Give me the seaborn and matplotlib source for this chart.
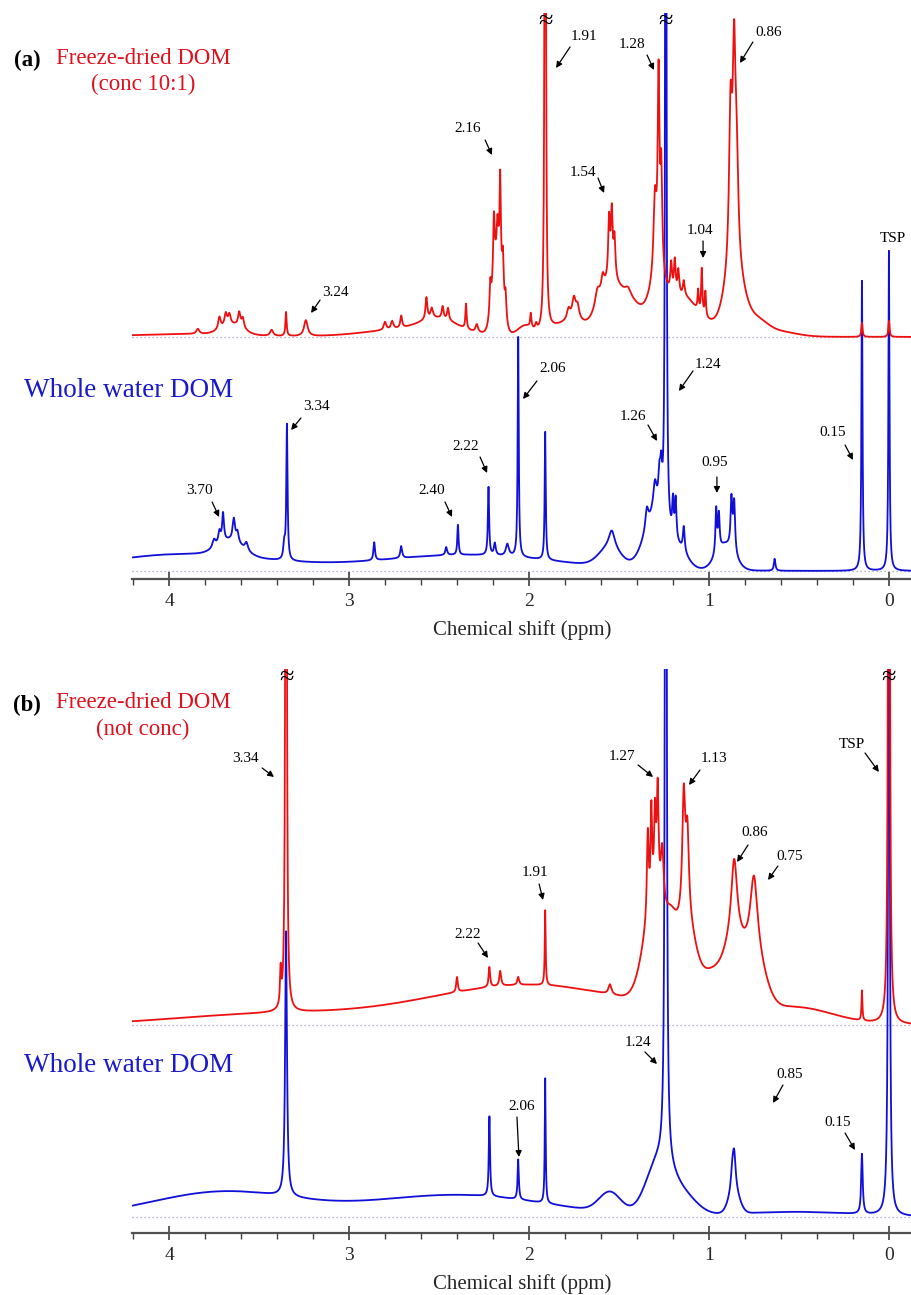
import numpy as np
import matplotlib
matplotlib.use("Agg")
import matplotlib.pyplot as plt
from matplotlib.ticker import MultipleLocator, FixedLocator
import seaborn as sns
import pandas as pd

sns.set_theme(style="white")
plt.rcParams["font.family"] = ["Liberation Serif", "DejaVu Serif"]

# ---------------- data (peak tables) ----------------
# sharp peaks: (ppm, height, half-width) ; broad humps: (ppm, height, sigma)
a_red_peaks = [
    (3.84, 5, 0.01), (3.72, 12, 0.008), (3.685, 12, 0.008), (3.665, 10, 0.008),
    (3.61, 14, 0.008), (3.59, 10, 0.008), (3.43, 6, 0.01), (3.35, 24, 0.004),
    (3.24, 16, 0.012), (2.80, 8, 0.008), (2.76, 8, 0.008), (2.71, 12, 0.006),
    (2.57, 22, 0.006), (2.54, 10, 0.008), (2.48, 12, 0.006), (2.45, 12, 0.006),
    (2.35, 25, 0.004), (2.29, 8, 0.008),
    (2.215, 30, 0.005), (2.195, 60, 0.005), (2.175, 30, 0.005), (2.16, 90, 0.004),
    (2.145, 40, 0.005), (2.13, 25, 0.005),
    (1.99, 14, 0.004), (1.96, 6, 0.006), (1.91, 1200, 0.003),
    (1.78, 10, 0.01), (1.75, 20, 0.012), (1.73, 12, 0.01),
    (1.62, 15, 0.015), (1.59, 15, 0.01), (1.555, 60, 0.006), (1.54, 65, 0.006),
    (1.525, 40, 0.006), (1.45, 8, 0.02),
    (1.30, 80, 0.01), (1.28, 192, 0.006), (1.265, 100, 0.006),
    (1.21, 30, 0.006), (1.19, 35, 0.006), (1.17, 25, 0.006), (1.14, 15, 0.006),
    (1.06, 20, 0.004), (1.04, 45, 0.004), (1.02, 25, 0.004),
    (0.88, 150, 0.01), (0.86, 200, 0.01), (0.845, 80, 0.01),
    (0.15, 14, 0.004), (0.0, 16, 0.004),
]
a_red_humps = [
    (3.9, 3, 0.3), (3.65, 10, 0.06), (2.65, 8, 0.25), (2.50, 12, 0.1),
    (2.175, 80, 0.025), (2.02, 10, 0.04), (1.85, 8, 0.05), (1.75, 15, 0.05),
    (1.55, 50, 0.07), (1.42, 25, 0.06), (1.28, 50, 0.05), (1.15, 30, 0.06),
    (1.05, 15, 0.08), (0.86, 60, 0.05), (0.74, 14, 0.06), (0.62, 5, 0.1),
]
a_blue_peaks = [
    (3.75, 8, 0.01), (3.72, 12, 0.008), (3.70, 28, 0.006), (3.64, 22, 0.008),
    (3.62, 10, 0.008), (3.57, 8, 0.01), (3.36, 15, 0.006), (3.345, 135, 0.004),
    (2.86, 18, 0.005), (2.71, 12, 0.006), (2.46, 8, 0.006), (2.395, 30, 0.004),
    (2.225, 68, 0.004), (2.19, 12, 0.006), (2.12, 12, 0.01), (2.06, 220, 0.0035),
    (1.91, 128, 0.0035), (1.54, 18, 0.02), (1.345, 20, 0.01), (1.30, 30, 0.012),
    (1.275, 35, 0.008), (1.265, 35, 0.006), (1.24, 1500, 0.003), (1.20, 35, 0.005),
    (1.185, 40, 0.005), (1.14, 25, 0.006), (0.96, 45, 0.005), (0.945, 35, 0.005),
    (0.875, 50, 0.006), (0.86, 50, 0.006), (0.635, 12, 0.005),
    (0.15, 290, 0.0035), (0.0, 320, 0.0035),
]
a_blue_humps = [
    (3.9, 17, 0.45), (3.66, 15, 0.07), (2.35, 16, 0.5), (1.55, 18, 0.06),
    (1.30, 50, 0.06), (1.17, 18, 0.05), (0.91, 25, 0.05),
]
b_red_peaks = [
    (3.38, 35, 0.004), (3.35, 1500, 0.003), (2.40, 15, 0.005), (2.22, 20, 0.005),
    (2.16, 15, 0.006), (2.06, 8, 0.006), (1.91, 75, 0.003), (1.55, 10, 0.01),
    (1.34, 85, 0.006), (1.32, 90, 0.005), (1.30, 80, 0.006), (1.285, 105, 0.006),
    (1.26, 60, 0.01), (1.14, 120, 0.01), (1.12, 80, 0.01),
    (0.86, 80, 0.02), (0.75, 80, 0.025), (0.15, 30, 0.003), (0.0, 2000, 0.003),
]
b_red_humps = [
    (3.5, 10, 0.5), (2.0, 40, 0.6), (1.30, 100, 0.06), (1.21, 40, 0.03),
    (1.13, 80, 0.05), (0.98, 40, 0.08), (0.86, 50, 0.05), (0.75, 50, 0.06),
    (0.5, 15, 0.2),
]
b_blue_peaks = [
    (3.35, 265, 0.006), (2.22, 80, 0.004), (2.06, 40, 0.004), (1.91, 125, 0.003),
    (1.24, 1500, 0.004), (0.87, 20, 0.01), (0.86, 35, 0.01), (0.15, 60, 0.005),
    (0.0, 1000, 0.004),
]
b_blue_humps = [
    (3.7, 25, 0.4), (2.4, 22, 0.5), (1.55, 20, 0.06), (1.28, 50, 0.07),
    (1.15, 20, 0.08), (0.86, 20, 0.03), (0.5, 5, 0.3),
]

# baseline offsets of the stacked traces
a_offsets = {"red": 242, "blue": 8}
b_offsets = {"red": 208, "blue": 16}

# peak labels: (text, text_pos, arrow_tail, arrow_head) in (ppm, intensity)
a_labels = [
    ("1.91", (1.694, 542), (1.772, 532), (1.850, 511)),
    ("1.28", (1.428, 534), (1.344, 524), (1.306, 509)),
    ("0.86", (0.667, 547), (0.756, 537), (0.828, 516)),
    ("2.16", (2.339, 450), (2.244, 439), (2.206, 424)),
    ("1.54", (1.700, 407), (1.617, 401), (1.583, 386)),
    ("1.04", (1.05, 348), (1.033, 338), (1.033, 321)),
    ("TSP", (-0.022, 341), None, None),
    ("3.24", (3.078, 286), (3.161, 279), (3.211, 266)),
    ("3.34", (3.183, 172), (3.267, 161), (3.322, 149)),
    ("3.70", (3.833, 88), (3.761, 77), (3.722, 62)),
    ("2.40", (2.539, 88), (2.467, 77), (2.428, 62)),
    ("2.22", (2.350, 133), (2.272, 122), (2.233, 106)),
    ("2.06", (1.867, 210), (1.956, 198), (2.033, 180)),
    ("1.24", (1.006, 215), (1.089, 208), (1.167, 188)),
    ("1.26", (1.422, 162), (1.339, 154), (1.289, 138)),
    ("0.95", (0.967, 117), (0.956, 102), (0.956, 86)),
    ("0.15", (0.311, 146), (0.244, 134), (0.200, 119)),
]
b_labels = [
    ("3.34", (3.578, 474), (3.483, 465), (3.417, 456)),
    ("1.27", (1.483, 476), (1.394, 468), (1.311, 456)),
    ("1.13", (0.972, 475), (1.050, 463), (1.111, 448)),
    ("TSP", (0.206, 489), (0.133, 480), (0.056, 461)),
    ("0.86", (0.744, 401), (0.783, 388), (0.844, 371)),
    ("0.75", (0.550, 376), (0.617, 367), (0.672, 353)),
    ("1.91", (1.967, 360), (1.944, 349), (1.922, 333)),
    ("2.22", (2.339, 298), (2.283, 290), (2.228, 275)),
    ("1.24", (1.394, 190), (1.356, 181), (1.289, 169)),
    ("2.06", (2.039, 127), (2.067, 116), (2.056, 76)),
    ("0.85", (0.550, 158), (0.589, 148), (0.644, 130)),
    ("0.15", (0.283, 111), (0.244, 100), (0.189, 83)),
]
a_breaks = [1.91, 1.24]
b_breaks = [3.35, 0.0]

tick_values = [4, 3, 2, 1, 0]
x_title = "Chemical shift (ppm)"

RED = "#ee1010"
BLUE = "#1010d8"
RED_TXT = "#e0101c"
BLUE_TXT = "#1a1ac8"

grid = np.arange(-0.25, 4.35, 0.0005)


def spectrum(peaks, humps):
    y = np.zeros_like(grid)
    for c, h, w in peaks:
        y += h * w ** 2 / ((grid - c) ** 2 + w ** 2)
    for c, h, s in humps:
        y += h * np.exp(-0.5 * ((grid - c) / s) ** 2)
    return y


W, H = 912, 1295
fig = plt.figure(figsize=(W / 100, H / 100), dpi=100)


def fx(px):
    return px / W


def fy(py):
    return 1 - py / H


def make_panel(top_px, axis_px, red_peaks, red_humps, blue_peaks, blue_humps,
               offsets, labels, breaks):
    ax = fig.add_axes([fx(132), fy(axis_px), fx(912) - fx(132),
                       fy(top_px) - fy(axis_px)])
    blue = spectrum(blue_peaks, blue_humps) + offsets["blue"]
    red = spectrum(red_peaks, red_humps) + offsets["red"]
    df = pd.DataFrame({"ppm": grid, "blue": blue, "red": red})
    sns.lineplot(data=df, x="ppm", y="blue", ax=ax, color=BLUE, lw=1.3,
                 estimator=None, sort=False)
    sns.lineplot(data=df, x="ppm", y="red", ax=ax, color=RED, lw=1.3,
                 estimator=None, sort=False)
    for off in offsets.values():
        ax.axhline(off, ls=(0, (1, 2.2)), color="#9a9ab8", lw=0.9, zorder=0)
    ax.set_xlim(4.206, -0.128)
    ax.set_ylim(0, axis_px - top_px)
    for s in ["top", "left", "right"]:
        ax.spines[s].set_visible(False)
    ax.spines["bottom"].set_color("#505050")
    ax.spines["bottom"].set_linewidth(1.6)
    ax.set_yticks([])
    ax.set_ylabel("")
    ax.xaxis.set_major_locator(FixedLocator(tick_values))
    ax.xaxis.set_minor_locator(MultipleLocator(0.2))
    ax.tick_params(axis="x", which="major", direction="inout", length=10,
                   width=1.2, color="#404040", labelsize=14, pad=5,
                   bottom=True)
    ax.tick_params(axis="x", which="minor", direction="out", length=4,
                   width=1.0, color="#404040", bottom=True)
    ax.set_xticklabels([str(v) for v in tick_values])
    ax.set_xlabel(x_title, fontsize=15, labelpad=7)
    for txt, tpos, tail, head in labels:
        ax.text(tpos[0], tpos[1], txt, fontsize=11, ha="center",
                va="center", color="black")
        if tail is not None:
            ax.annotate("", xy=head, xytext=tail,
                        arrowprops=dict(arrowstyle="-|>", color="black",
                                        lw=0.9, mutation_scale=9,
                                        shrinkA=0, shrinkB=0))
    ylim_top = axis_px - top_px
    for b in breaks:
        ax.text(b, ylim_top - 9, "\u2248", fontsize=19, ha="center",
                va="center", color="black")
    return ax


ax_a = make_panel(13, 579, a_red_peaks, a_red_humps, a_blue_peaks,
                  a_blue_humps, a_offsets, a_labels, a_breaks)
ax_b = make_panel(669, 1233, b_red_peaks, b_red_humps, b_blue_peaks,
                  b_blue_humps, b_offsets, b_labels, b_breaks)

# series titles
for (lab, y_lab, l1, l2, y1, y2, y_whole) in [
        ("(a)", 60, "Freeze-dried DOM", "(conc 10:1)", 58, 84, 390),
        ("(b)", 705, "Freeze-dried DOM", "(not conc)", 703, 729, 1066)]:
    fig.text(fx(27), fy(y_lab), lab, fontsize=16.5, fontweight="bold",
             ha="center", va="center", color="black")
    fig.text(fx(143), fy(y1), l1, fontsize=16.5, ha="center",
             va="center", color=RED_TXT)
    fig.text(fx(143), fy(y2), l2, fontsize=16.5, ha="center",
             va="center", color=RED_TXT)
    fig.text(fx(233), fy(y_whole), "Whole water DOM", fontsize=19.5,
             ha="right", va="center", color=BLUE_TXT)

fig.savefig("out.png", dpi=100, facecolor="white")
